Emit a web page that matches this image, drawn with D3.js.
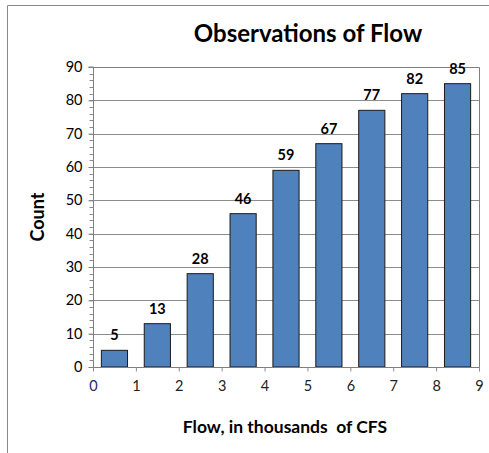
<!DOCTYPE html>
<html>
<head>
<meta charset="utf-8">
<script src="https://cdn.jsdelivr.net/npm/d3@7"></script>
<style>
  html, body { margin: 0; padding: 0; background: #fff; }
  svg { display: block; font-family: Lato, "Open Sans", "Liberation Sans", sans-serif; }
</style>
</head>
<body>
<svg id="chart" width="489" height="453"></svg>
<script>
// Flow histogram: counts per 1,000-CFS bin
const binStarts = [0, 1, 2, 3, 4, 5, 6, 7, 8];
const counts = [5, 13, 28, 46, 59, 67, 77, 82, 85];
const xTicks = [0, 1, 2, 3, 4, 5, 6, 7, 8, 9];
const yTicks = [0, 10, 20, 30, 40, 50, 60, 70, 80, 90];
const yMinorTicks = d3.range(0, 91, 2);

const svg = d3.select("#chart");
const plotLeft = 93, plotRight = 479, plotTop = 67, plotBottom = 367;

const x = d3.scaleLinear().domain([0, 9]).range([plotLeft, plotRight]);
const y = d3.scaleLinear().domain([0, 90]).range([plotBottom, plotTop]);

// Outer chart frame
svg.append("path")
  .attr("d", `M7.5,453 L7.5,5.5 L489,5.5`)
  .attr("fill", "none").attr("stroke", "#8a8a8a").attr("stroke-width", 1);

// Title
svg.append("text")
  .attr("x", 308).attr("y", 42)
  .attr("text-anchor", "middle")
  .attr("font-size", 24).attr("font-weight", "bold")
  .attr("fill", "#000")
  .text("Observations of Flow");

// Horizontal gridlines
svg.append("g").selectAll("line")
  .data(yTicks.filter(d => d > 0))
  .join("line")
  .attr("x1", plotLeft).attr("x2", plotRight)
  .attr("y1", d => Math.round(y(d)) + 0.5).attr("y2", d => Math.round(y(d)) + 0.5)
  .attr("stroke", "#8c8c8c").attr("stroke-width", 1);

// Plot area border (top and right)
svg.append("path")
  .attr("d", `M${plotLeft},${plotTop + 0.5} L${plotRight + 0.5},${plotTop + 0.5} L${plotRight + 0.5},${plotBottom}`)
  .attr("fill", "none").attr("stroke", "#7f7f7f").attr("stroke-width", 1);

// Bars
const barW = 0.61;
svg.append("g").selectAll("rect")
  .data(binStarts)
  .join("rect")
  .attr("x", (d) => x(d + 0.5 - barW / 2))
  .attr("width", (d) => x(d + 0.5 + barW / 2) - x(d + 0.5 - barW / 2))
  .attr("y", (d, i) => y(counts[i]))
  .attr("height", (d, i) => y(0) - y(counts[i]))
  .attr("fill", "#4f81bd")
  .attr("stroke", "#1a1a1a").attr("stroke-width", 1);

// Value labels
svg.append("g").selectAll("text")
  .data(binStarts)
  .join("text")
  .attr("x", d => x(d + 0.5))
  .attr("y", (d, i) => y(counts[i]) - 10)
  .attr("text-anchor", "middle")
  .attr("font-size", 14.5).attr("font-weight", "bold")
  .attr("fill", "#000")
  .text((d, i) => counts[i]);

// Y axis with minor ticks
const yAxisG = svg.append("g").attr("transform", `translate(${plotLeft + 0.5},0)`);
yAxisG.append("g").selectAll("line")
  .data(yMinorTicks)
  .join("line")
  .attr("x1", -4).attr("x2", 0)
  .attr("y1", d => Math.round(y(d)) + 0.5).attr("y2", d => Math.round(y(d)) + 0.5)
  .attr("stroke", "#8c8c8c");
yAxisG.call(d3.axisLeft(y).tickValues(yTicks).tickSize(5).tickPadding(6).tickFormat(d3.format("d")))
  .call(g => g.select(".domain").attr("stroke", "#7f7f7f").attr("d", `M-5,${plotTop}H0V${plotBottom + 3}`))
  .call(g => g.selectAll(".tick line").attr("stroke", "#7f7f7f"))
  .call(g => g.selectAll(".tick text").attr("font-size", 14.5).attr("fill", "#000")
    .attr("font-family", "Lato, 'Open Sans', sans-serif"));

// X axis
const xAxisG = svg.append("g").attr("transform", `translate(0,${plotBottom + 0.5})`);
xAxisG.call(d3.axisBottom(x).tickValues(xTicks).tickSize(4).tickPadding(9).tickFormat(d3.format("d")))
  .call(g => g.select(".domain").attr("stroke", "#7f7f7f").attr("d", `M${plotLeft},0H${plotRight + 1}`))
  .call(g => g.selectAll(".tick line").attr("stroke", "#8c8c8c"))
  .call(g => g.selectAll(".tick text").attr("font-size", 14.5)
    .attr("fill", d => d === 0 ? "#1f2a6b" : "#222")
    .attr("font-family", "Lato, 'Open Sans', sans-serif"));

// Axis titles
svg.append("text")
  .attr("x", 285).attr("y", 433)
  .attr("text-anchor", "middle")
  .attr("font-size", 17.5).attr("font-weight", "bold")
  .attr("fill", "#000")
  .style("white-space", "pre")
  .text("Flow, in thousands  of CFS");

svg.append("text")
  .attr("transform", `translate(44,${(plotTop + plotBottom) / 2}) rotate(-90)`)
  .attr("text-anchor", "middle")
  .attr("font-size", 18).attr("font-weight", "bold")
  .attr("fill", "#000")
  .text("Count");
</script>
</body>
</html>
